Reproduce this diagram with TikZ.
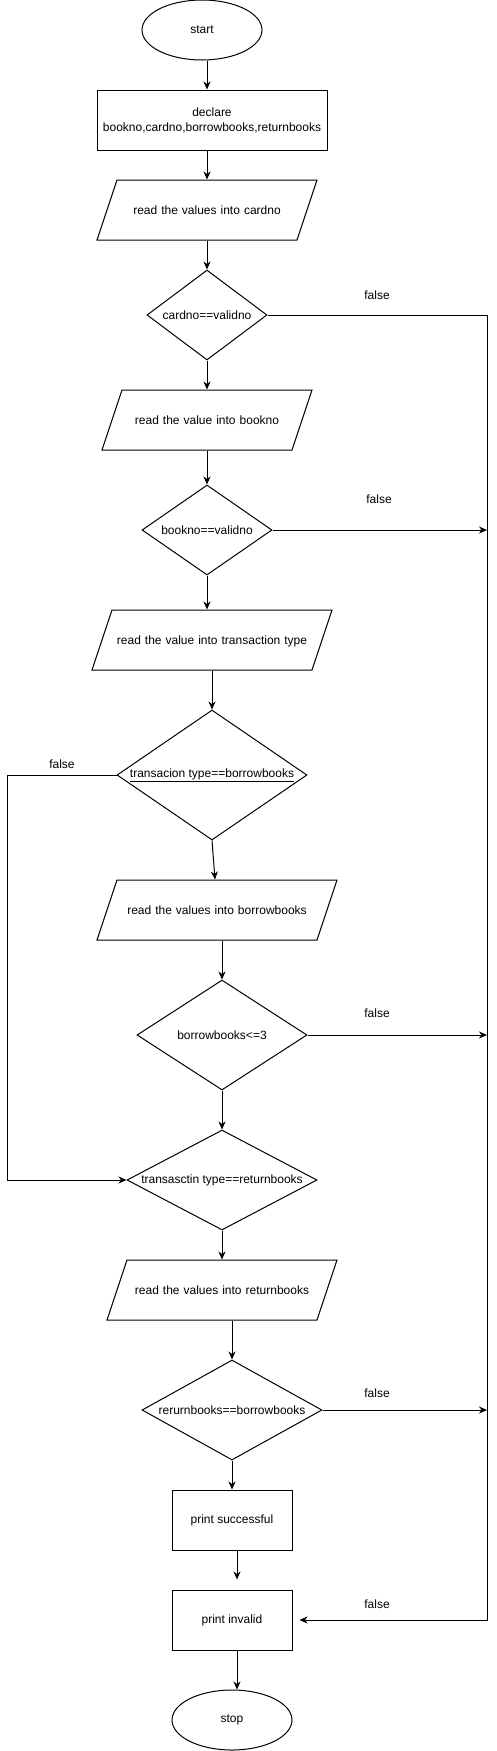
\documentclass[tikz,border=0pt]{standalone}
\usepackage{fontspec}
\setmainfont{Liberation Sans}
\usetikzlibrary{shapes.geometric, arrows.meta, positioning, calc}

\tikzset{
	base/.style={draw, line width=1pt, align=center},
	term/.style={base, ellipse, minimum width=120pt, minimum height=60pt, inner sep=0pt},
	proc/.style={base, rectangle, minimum width=120pt, minimum height=60pt},
	io/.style={base, trapezium, trapezium left angle=71.565, trapezium right angle=108.435,
		text height=34pt, text depth=26pt, inner sep=0pt},
	decision/.style={base, diamond, inner sep=0pt},
	flow/.style={line width=1pt, -{Stealth[length=8pt, width=7pt, inset=2.5pt]}}
}

\begin{document}
\begin{tikzpicture}[x=1pt, y=-1pt, every node/.style={font=\fontsize{12}{15}\selectfont}]
	\useasboundingbox (0,0) rectangle (497,1751);

	\node[term] (start) at (202,30) {start};
	\node[proc, minimum width=230pt, inner sep=2pt] (declare) at (212,120) {declare\\bookno,cardno,borrowbooks,returnbooks};
	\node[io, text width=180pt] (cardno) at (207,210) {read the values into cardno};
	\node[decision, minimum width=120pt, minimum height=90pt, label={center:cardno==validno}] (dcard) at (207,315) {};
	\node[io, text width=170pt] (bookno) at (207,420) {read the value into bookno};
	\node[decision, minimum width=130pt, minimum height=90pt, label={center:bookno==validno}] (dbook) at (207,530) {};
	\node[io, text width=200pt] (ptrans) at (212,640) {read the value into transaction type};
	\node[decision, minimum width=190pt, minimum height=130pt, label={center:\underline{transacion type==borrowbooks}}] (dtrans) at (212,775) {};
	\node[io, text width=200pt] (pborrow) at (217,910) {read the values into borrowbooks};
	\node[decision, minimum width=170pt, minimum height=110pt, label={center:borrowbooks<=3}] (dborrow) at (222,1035) {};
	\node[decision, minimum width=190pt, minimum height=100pt, label={center:transasctin type==returnbooks}] (dret) at (222,1180) {};
	\node[io, text width=190pt] (preturn) at (222,1290) {read the values into returnbooks};
	\node[decision, minimum width=180pt, minimum height=100pt, label={center:rerurnbooks==borrowbooks}] (drr) at (232,1410) {};
	\node[proc] (succ) at (232,1520) {print successful};
	\node[proc] (invalid) at (232,1620) {print invalid};
	\node[term] (stop) at (232,1720) {stop};

	% false labels
	\node (f1) at (377,295) {false};
	\node (f2) at (379,499) {false};
	\node (f3) at (62,764) {false};
	\node (f4) at (377,1013) {false};
	\node (f5) at (377,1393) {false};
	\node (f6) at (377,1604) {false};

	\coordinate (rail) at (487,0);
	\coordinate (lrail) at (7,0);

	\foreach \from/\to/\x in {
		start/declare/207, declare/cardno/207, cardno/dcard/207, dcard/bookno/207,
		bookno/dbook/207, dbook/ptrans/207, ptrans/dtrans/212, pborrow/dborrow/222,
		dborrow/dret/222, dret/preturn/222, preturn/drr/232, drr/succ/232, invalid/stop/237}
		\draw[flow] (\x,0 |- \from.south) -- (\x,0 |- \to.north);
	\draw[flow] (dtrans.south) -- ([xshift=-2pt]pborrow.north);
	\draw[flow, shorten >=10pt] (237,0 |- succ.south) -- (237,0 |- invalid.north);

	\draw[flow] (dcard.east) -- (dcard.east -| rail) |- ([xshift=7pt]invalid.east);
	\foreach \d in {dbook, dborrow, drr}
		\draw[flow] (\d.east) -- (\d.east -| rail);
	\draw[flow] (dtrans.west) -- (dtrans.west -| lrail) |- (dret.west);
\end{tikzpicture}
\end{document}
